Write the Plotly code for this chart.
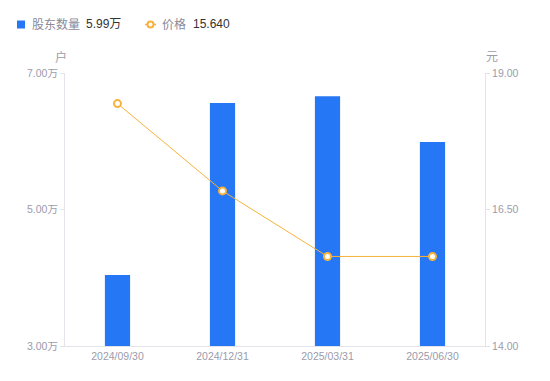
import plotly.graph_objects as go

categories = ["2024/09/30", "2024/12/31", "2025/03/31", "2025/06/30"]
holders_wan = [4.04, 6.56, 6.66, 5.99]
price = [18.44, 16.84, 15.64, 15.64]
left_ticks = [3.0, 5.0, 7.0]
left_ticktext = ["3.00万", "5.00万", "7.00万"]
right_ticks = [14.0, 16.5, 19.0]
right_ticktext = ["14.00", "16.50", "19.00"]
legend_names = ["股东数量", "价格"]
legend_values = ["5.99万", "15.640"]

FONT = "Liberation Sans, Arial, Noto Sans CJK SC, sans-serif"
GRAY = "#9b9bab"
AXIS = "#e3e3ea"
BLUE = "#2677f5"
ORANGE = "#f7b23b"

# plot area in page px: x 65..485, y 73..346 (page has 8px body margin)
PL, PR, PT, PB = 65, 485, 73, 346
def px(x):
    return (x - PL) / (PR - PL)
def py(y):
    return (PB - y) / (PB - PT)

fig = go.Figure()
fig.add_trace(go.Bar(
    x=categories, y=holders_wan, yaxis="y", name=legend_names[0],
    marker=dict(color=BLUE, line=dict(width=0)), width=0.24,
))
fig.add_trace(go.Scatter(
    x=categories, y=price, yaxis="y2", mode="lines+markers", name=legend_names[1],
    line=dict(color=ORANGE, width=1),
    marker=dict(symbol="circle", size=7, color="white", line=dict(color=ORANGE, width=2)),
))

shapes = [
    dict(type="rect", xref="paper", yref="paper", x0=px(17), x1=px(25), y0=py(20.5), y1=py(28.5),
         fillcolor=BLUE, line=dict(width=0)),
    dict(type="line", xref="paper", yref="paper", x0=px(145), x1=px(156), y0=py(24.5), y1=py(24.5),
         line=dict(color=ORANGE, width=1.5)),
    dict(type="circle", xref="paper", yref="paper", x0=px(147.5), x1=px(153.5), y0=py(21.5), y1=py(27.5),
         fillcolor="white", line=dict(color=ORANGE, width=2)),
]

def ann(text, x, y, color, size=12, anchor="left"):
    return dict(text=text, xref="paper", yref="paper", x=px(x), y=py(y), xanchor=anchor,
                yanchor="middle", showarrow=False, font=dict(size=size, color=color))

annotations = [
    ann(legend_names[0], 30, 24.5, "#8a8a99"),
    ann(legend_values[0], 84, 24.5, "#333333"),
    ann(legend_names[1], 160, 24.5, "#8a8a99"),
    ann(legend_values[1], 191, 24.5, "#333333"),
    ann("户", 53, 57, GRAY),
    ann("元", 484, 57, GRAY),
]

fig.update_layout(
    width=542, height=373,
    margin=dict(l=57, r=65, t=65, b=35),
    paper_bgcolor="white", plot_bgcolor="white",
    font=dict(family=FONT, size=11, color=GRAY),
    showlegend=False,
    bargap=0.5,
    xaxis=dict(
        type="category", showgrid=False, showline=True, linecolor=AXIS,
        ticks="", tickfont=dict(size=10.5, color=GRAY), zeroline=False, automargin=False,
    ),
    yaxis=dict(
        range=[3, 7], tickvals=left_ticks, ticktext=left_ticktext,
        showgrid=False, showline=True, linecolor=AXIS, ticks="outside",
        ticklen=4, tickcolor=AXIS, tickfont=dict(size=10.5, color=GRAY), zeroline=False,
        automargin=False,
    ),
    yaxis2=dict(
        range=[14, 19], tickvals=right_ticks, ticktext=right_ticktext,
        overlaying="y", side="right", showgrid=False, showline=True, linecolor=AXIS,
        ticks="outside", ticklen=4, tickcolor=AXIS, tickfont=dict(size=10.5, color=GRAY),
        zeroline=False, automargin=False,
    ),
    shapes=shapes,
    annotations=annotations,
)

fig.write_html("out.html")
